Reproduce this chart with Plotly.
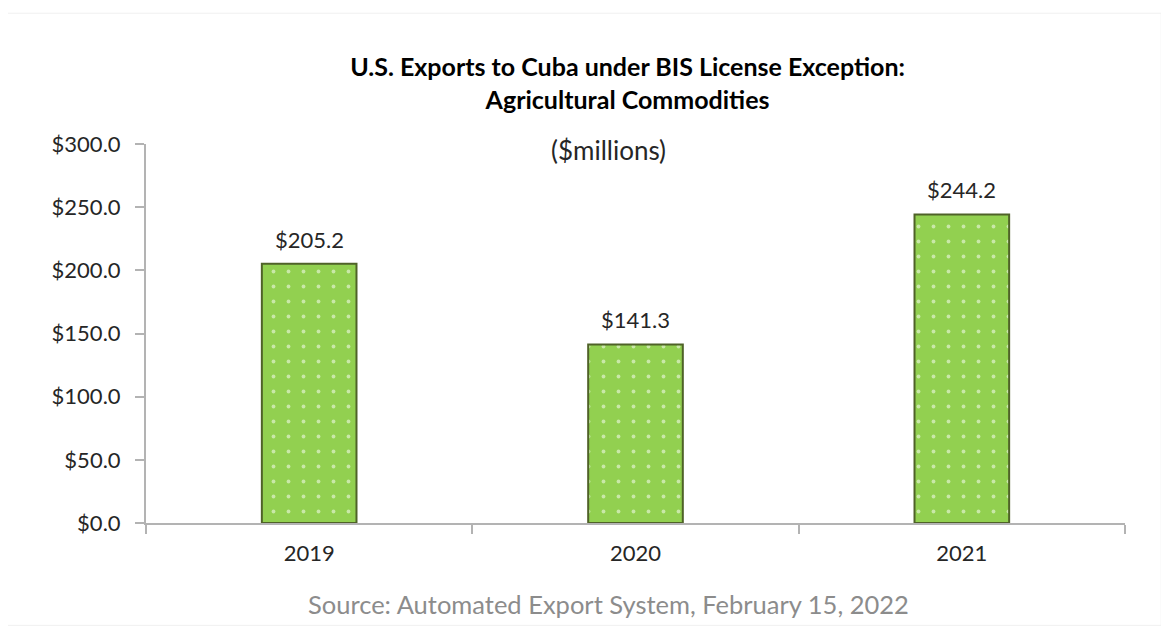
import plotly.graph_objects as go

years = ["2019", "2020", "2021"]
exports = [205.2, 141.3, 244.2]
y_ticks = [0, 50, 100, 150, 200, 250, 300]
y_tick_labels = ["$0.0", "$50.0", "$100.0", "$150.0", "$200.0", "$250.0", "$300.0"]

FONT = "Lato, 'Open Sans', Arial, sans-serif"

fig = go.Figure()
fig.add_trace(go.Bar(
    x=years,
    y=exports,
    width=0.29,
    marker=dict(
        color="#92d050",
        line=dict(color="#4f6228", width=2),
        pattern=dict(shape=".", fgcolor="white", bgcolor="#92d050",
                     size=15, solidity=0.05, fillmode="overlay"),
    ),
    hoverinfo="skip",
))

# value labels positioned by category index on the category axis
value_labels = [
    dict(x=i, y=v, xref="x", yref="y", text=f"${v:.1f}", showarrow=False,
         yanchor="bottom", xanchor="center", yshift=9,
         font=dict(size=22, color="#262626", family=FONT))
    for i, v in enumerate(exports)
]

fig.update_layout(
    width=1169, height=634,
    margin=dict(l=138, r=52, t=136, b=119),
    paper_bgcolor="white",
    plot_bgcolor="white",
    showlegend=False,
    font=dict(family=FONT, color="#262626"),
    title=dict(
        text="<b>U.S. Exports to Cuba under BIS License Exception:</b><br><b>Agricultural Commodities</b>",
        x=0.530, xanchor="center", y=0.892, yanchor="top",
        font=dict(size=25, color="#000000", family=FONT),
    ),
    annotations=value_labels + [
        dict(text="($millions)", xref="paper", yref="paper", x=0.472, y=1.0,
             xanchor="center", yanchor="middle", yshift=-6, showarrow=False,
             font=dict(size=26, color="#262626", family=FONT)),
        dict(text="Source: Automated Export System, February 15, 2022",
             xref="paper", yref="paper", x=0.4725, y=0, yshift=-81,
             xanchor="center", yanchor="middle", showarrow=False,
             font=dict(size=25.5, color="#8c8c8c", family=FONT)),
    ],
    shapes=[
        dict(type="rect", xref="paper", yref="paper", x0=-0.142, x1=1.037, y0=-0.27, y1=1.345,
             line=dict(color="#f0f0f0", width=1), fillcolor="rgba(0,0,0,0)"),
    ],
)

fig.update_xaxes(
    type="category",
    categoryorder="array", categoryarray=years,
    showline=True, linecolor="#b3b3b3", linewidth=2,
    ticks="outside", tickson="boundaries", ticklen=9, tickcolor="#b3b3b3", tickwidth=2,
    tickfont=dict(size=22, color="#262626", family=FONT),
    ticklabelstandoff=10, tickangle=0,
    showgrid=False,
)
fig.update_yaxes(
    range=[0, 300],
    tickvals=y_ticks, ticktext=y_tick_labels,
    showline=True, linecolor="#b3b3b3", linewidth=2,
    ticks="outside", ticklen=9, tickcolor="#b3b3b3", tickwidth=2,
    tickfont=dict(size=22, color="#262626", family=FONT),
    ticklabelstandoff=10,
    showgrid=False, zeroline=False,
)

fig.write_html("out.html")
